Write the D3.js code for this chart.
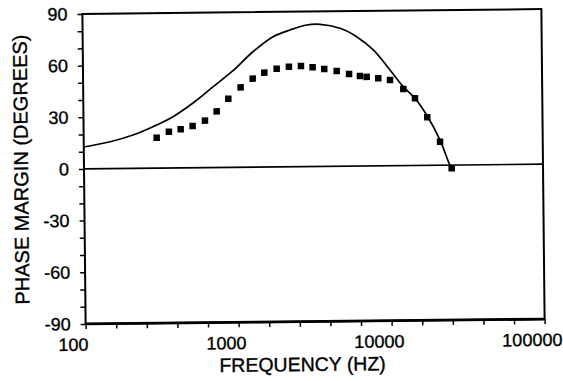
<!DOCTYPE html>
<html>
<head>
<meta charset="utf-8">
<script src="https://cdn.jsdelivr.net/npm/d3@7"></script>
<style>
  html, body { margin: 0; padding: 0; background: #fff; }
  svg { display: block; }
  text { font-family: "Liberation Sans", Arial, Helvetica, sans-serif; fill: #000; stroke: #000; stroke-width: 0.35px; }
</style>
</head>
<body>
<svg id="chart" width="563" height="381"></svg>
<script>
// calculated phase margin (solid line)
var curveFreq = [100, 149, 210, 284, 385, 521, 705, 955, 1295, 1756, 2268, 2920, 3566,
                 4820, 6180, 7920, 10150, 12370, 14720, 17500, 21320, 24660, 25200];
var curvePhase = [12.7, 15.6, 19.4, 24.1, 29.8, 37.6, 46.8, 56.1, 67.0, 75.6, 79.4, 82.2, 82.5,
                  80.1, 75.1, 67.3, 55.6, 45.8, 39.0, 29.2, 14.6, 0.0, -1.0];

// measured phase margin (squares)
var measFreq = [300, 361, 431, 516, 622, 743, 887, 1069, 1284, 1531, 1845, 2220, 2660,
                3170, 3776, 4550, 5480, 6454, 7138, 8496, 10140, 12370, 14720, 17660, 21320, 25300];
var measPhase = [17.7, 21.1, 22.4, 24.3, 27.3, 32.6, 39.9, 46.4, 51.4, 54.8, 57.0, 58.1, 58.4,
                 57.6, 56.6, 55.3, 53.5, 52.3, 51.7, 50.8, 49.8, 44.5, 39.0, 27.9, 13.6, -1.9];

var xTickLabels = ['100', '1000', '10000', '100000'];
var yTickLabels = ['-90', '-60', '-30', '0', '30', '60', '90'];

var xTitle = 'FREQUENCY (HZ)';
var yTitle = 'PHASE MARGIN (DEGREES)';

var svg = d3.select('#chart');
var plotL = 84, plotR = 543, plotT = 11.5, plotB = 321.5;

//the scanned original is tilted a little
var root = svg.append('g').attr('transform', 'rotate(-0.6,314,167)');

var x = d3.scaleLog().domain([100, 100000]).range([plotL, plotR]);
var y = d3.scaleLinear().domain([-90, 90]).range([plotB, plotT]);

//minor ticks every fifth of a decade, labels only on decades
var xTicks = d3.range(0, 16).map(function (i) { return Math.pow(10, 2 + i * 0.2); });
var xAxis = d3.axisBottom(x)
    .tickValues(xTicks)
    .tickSize(5)
    .tickSizeOuter(0)
    .tickFormat(function (d) {
        var k = xTickLabels.map(Number).indexOf(Math.round(d));
        return k < 0 ? '' : xTickLabels[k];
    });

var yAxis = d3.axisLeft(y)
    .tickValues(d3.range(-90, 91, 10))
    .tickSize(5)
    .tickSizeOuter(0)
    .tickFormat(function (d) {
        var k = yTickLabels.map(Number).indexOf(d);
        return k < 0 ? '' : yTickLabels[k];
    });

var gx = root.append('g')
    .attr('transform', 'translate(0,' + plotB + ')')
    .call(xAxis);
gx.select('.domain').remove();
gx.selectAll('line').attr('stroke-width', 1.5);
gx.selectAll('text')
    .attr('font-size', 18)
    .attr('dx', -13)
    .attr('dy', '1.05em');

var gy = root.append('g')
    .attr('transform', 'translate(' + plotL + ',0)')
    .call(yAxis);
gy.select('.domain').remove();
gy.selectAll('line').attr('stroke-width', 1.5);
gy.selectAll('text')
    .attr('font-size', 18)
    .attr('x', -15);

// frame
root.append('rect')
    .attr('x', plotL).attr('y', plotT)
    .attr('width', plotR - plotL).attr('height', plotB - plotT)
    .attr('fill', 'none').attr('stroke', '#000').attr('stroke-width', 2);
root.append('line')
    .attr('x1', plotL).attr('x2', plotR)
    .attr('y1', plotB).attr('y2', plotB)
    .attr('stroke', '#000').attr('stroke-width', 2.8);

// zero line
root.append('line')
    .attr('x1', plotL).attr('x2', plotR)
    .attr('y1', y(0)).attr('y2', y(0))
    .attr('stroke', '#000').attr('stroke-width', 1.6);

var line = d3.line()
    .x(function (d) { return x(d[0]); })
    .y(function (d) { return y(d[1]); })
    .curve(d3.curveCatmullRom.alpha(0.5));

root.append('path')
    .datum(d3.zip(curveFreq, curvePhase))
    .attr('d', line)
    .attr('fill', 'none')
    .attr('stroke', '#000')
    .attr('stroke-width', 1.7);

var sq = 6.5;
root.append('g').selectAll('rect')
    .data(d3.zip(measFreq, measPhase))
    .join('rect')
    .attr('x', function (d) { return x(d[0]) - sq / 2; })
    .attr('y', function (d) { return y(d[1]) - sq / 2; })
    .attr('width', sq).attr('height', sq)
    .attr('fill', '#000');

// titles
root.append('text')
    .attr('x', (plotL + plotR) / 2 - 13)
    .attr('y', 371)
    .attr('text-anchor', 'middle')
    .attr('font-size', 19.5)
    .text(xTitle);

root.append('text')
    .attr('transform', 'translate(28,' + y(0) + ') rotate(-90)')
    .attr('text-anchor', 'middle')
    .attr('font-size', 20)
    .text(yTitle);
</script>
</body>
</html>
